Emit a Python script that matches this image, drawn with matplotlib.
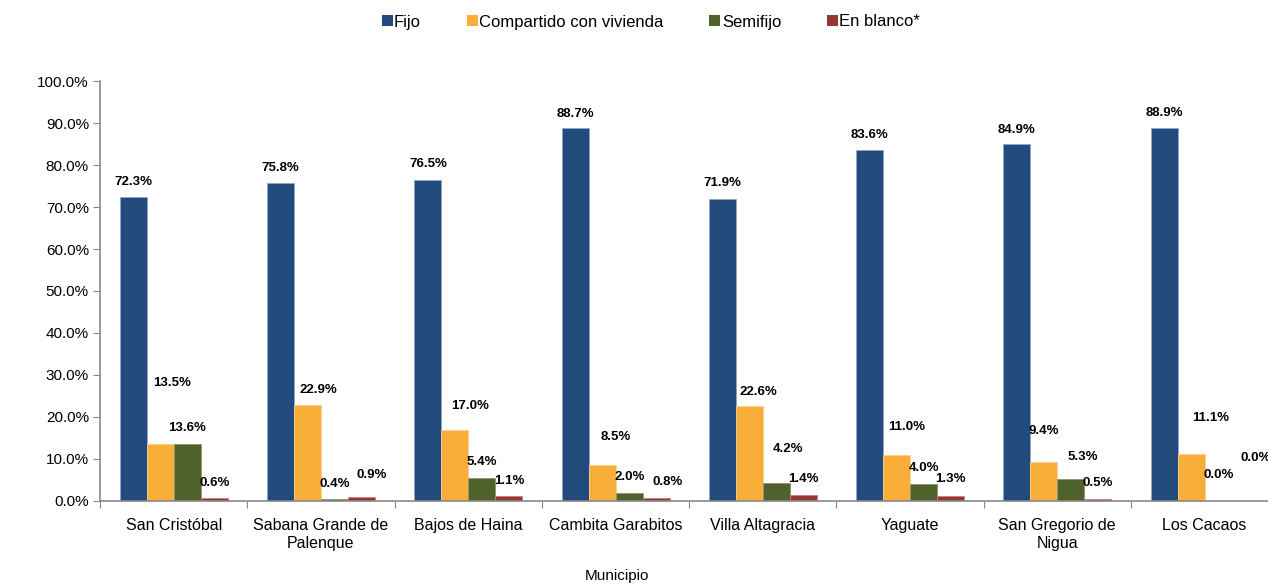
import matplotlib
matplotlib.use("Agg")
import matplotlib.pyplot as plt
from matplotlib.patches import Patch
from matplotlib.ticker import FuncFormatter

plt.rcParams['font.family'] = ['Liberation Sans', 'DejaVu Sans']

municipios = ["San Cristóbal", "Sabana Grande de\nPalenque", "Bajos de Haina",
              "Cambita Garabitos", "Villa Altagracia", "Yaguate",
              "San Gregorio de\nNigua", "Los Cacaos"]
series = ["Fijo", "Compartido con vivienda", "Semifijo", "En blanco*"]

fijo = [72.3, 75.8, 76.5, 88.7, 71.9, 83.6, 84.9, 88.9]
compartido = [13.5, 22.9, 17.0, 8.5, 22.6, 11.0, 9.4, 11.1]
semifijo = [13.6, 0.4, 5.4, 2.0, 4.2, 4.0, 5.3, 0.0]
en_blanco = [0.6, 0.9, 1.1, 0.8, 1.4, 1.3, 0.5, 0.0]

colors = ["#234A7C", "#FAAE3A", "#4F622B", "#953735"]
edges = ["#8FA6C8", "#FCD08A", "#8A9A66", "#C88080"]

# where the data labels sit (label centre, % units) and their x shift (category units)
label_y = [
    [76.0, 79.3, 80.2, 92.1, 75.7, 87.1, 88.3, 92.4],
    [28.1, 26.4, 22.6, 15.2, 26.0, 17.6, 16.7, 19.8],
    [17.4, 4.0, 9.3, 5.7, 12.4, 7.9, 10.5, 6.2],
    [4.3, 6.2, 4.8, 4.5, 5.2, 5.2, 4.3, 10.2],
]
label_dx = [
    [0, 0, 0, 0, 0, 0, 0, 0],
    [0.08, 0.07, 0.1, 0.09, 0.06, 0.07, 0.0, 0.13],
    [0, 0, 0, 0, 0.075, 0, 0.08, 0],
    [0, 0.07, 0, 0.08, 0, 0, 0, 0.07],
]

values = [fijo, compartido, semifijo, en_blanco]

fig = plt.figure(figsize=(12.68, 5.84), dpi=100)
ax = fig.add_axes([100 / 1268, 83 / 584, 1178 / 1268, 420 / 584])

pad = 0.1358
w = 0.1833
for s, vals in enumerate(values):
    xs = [i + pad + w * s + w / 2 for i in range(len(municipios))]
    ax.bar(xs, vals, width=w, color=colors[s], edgecolor=edges[s], linewidth=0.6)
    for i, v in enumerate(vals):
        ax.text(xs[i] + label_dx[s][i], label_y[s][i], f"{v:.1f}%",
                ha="center", va="center", fontsize=9.5, fontweight="bold",
                color="black")

ax.set_xlim(0, len(municipios))
ax.set_ylim(0, 100)
ax.set_yticks(range(0, 101, 10))
ax.yaxis.set_major_formatter(FuncFormatter(lambda v, p: f"{v:.1f}%"))

ax.set_xticks(range(0, len(municipios) + 1))
ax.set_xticklabels([])
ax.set_xticks([i + 0.5 for i in range(len(municipios))], minor=True)
ax.set_xticklabels(municipios, minor=True, fontsize=11.5, linespacing=1.3)
ax.tick_params(axis="x", which="minor", length=0, pad=12)
ax.tick_params(axis="x", which="major", length=5, color="#888888")
ax.tick_params(axis="y", length=5, color="#888888", labelsize=11, pad=3)

for sp in ["top", "right"]:
    ax.spines[sp].set_visible(False)
for sp in ["left", "bottom"]:
    ax.spines[sp].set_color("#888888")
    ax.spines[sp].set_linewidth(1.2)

handles = [Patch(facecolor=c, edgecolor="none") for c in colors]
fig.legend(handles, series, loc="center", bbox_to_anchor=(651 / 1268, 1 - 22 / 584),
           ncol=4, frameon=False, fontsize=12, handlelength=0.66, handleheight=0.66,
           handletextpad=0.08, columnspacing=2.75)

fig.text(617 / 1268, 1 - 576 / 584, "Municipio", ha="center", va="center", fontsize=11)

fig.savefig("out.png", dpi=100)
